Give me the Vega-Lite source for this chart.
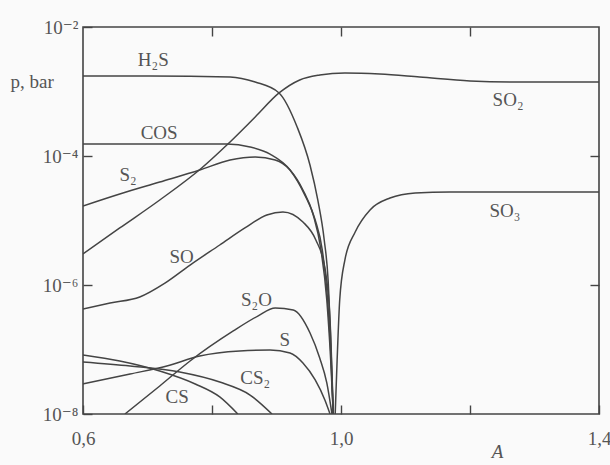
{
  "$schema": "https://vega.github.io/schema/vega-lite/v6.json",
  "width": 516,
  "height": 387,
  "autosize": "none",
  "padding": {"left": 83, "top": 27, "right": 11, "bottom": 51},
  "background": "#fafafa",
  "config": {
    "view": {"stroke": "#444444", "strokeWidth": 1.6},
    "axis": {
      "domain": false, "grid": false,
      "labelFont": "'Liberation Serif', 'DejaVu Serif', serif", "titleFont": "'Liberation Serif', 'DejaVu Serif', serif",
      "labelColor": "#555555", "titleColor": "#555555", "tickColor": "#444444",
      "labelFontSize": 19, "titleFontSize": 19, "titleFontWeight": "normal",
      "tickWidth": 1.4
    }
  },
  "datasets": {
    "curves": [
      {"s": "H2S", "x": 0.6, "p": 1.74e-3},
      {"s": "H2S", "x": 0.704, "p": 1.74e-3},
      {"s": "H2S", "x": 0.828, "p": 1.68e-3},
      {"s": "H2S", "x": 0.867, "p": 1.40e-3},
      {"s": "H2S", "x": 0.904, "p": 9.5e-4},
      {"s": "H2S", "x": 0.932, "p": 2.82e-4},
      {"s": "H2S", "x": 0.952, "p": 7.2e-5},
      {"s": "H2S", "x": 0.964, "p": 2.08e-5},
      {"s": "H2S", "x": 0.974, "p": 4.99e-6},
      {"s": "H2S", "x": 0.980, "p": 1.20e-6},
      {"s": "H2S", "x": 0.984, "p": 1.40e-7},
      {"s": "H2S", "x": 0.988, "p": 1e-8},

      {"s": "COS", "x": 0.6, "p": 1.53e-4},
      {"s": "COS", "x": 0.719, "p": 1.53e-4},
      {"s": "COS", "x": 0.823, "p": 1.53e-4},
      {"s": "COS", "x": 0.859, "p": 1.38e-4},
      {"s": "COS", "x": 0.890, "p": 1.07e-4},
      {"s": "COS", "x": 0.921, "p": 6.07e-5},
      {"s": "COS", "x": 0.944, "p": 2.48e-5},
      {"s": "COS", "x": 0.960, "p": 1.02e-5},
      {"s": "COS", "x": 0.971, "p": 3.49e-6},
      {"s": "COS", "x": 0.978, "p": 8.36e-7},
      {"s": "COS", "x": 0.984, "p": 9.8e-8},
      {"s": "COS", "x": 0.988, "p": 1e-8},

      {"s": "S2", "x": 0.6, "p": 1.68e-5},
      {"s": "S2", "x": 0.657, "p": 2.58e-5},
      {"s": "S2", "x": 0.719, "p": 3.95e-5},
      {"s": "S2", "x": 0.781, "p": 6.07e-5},
      {"s": "S2", "x": 0.828, "p": 8.67e-5},
      {"s": "S2", "x": 0.867, "p": 9.64e-5},
      {"s": "S2", "x": 0.898, "p": 8.67e-5},
      {"s": "S2", "x": 0.921, "p": 6.07e-5},
      {"s": "S2", "x": 0.941, "p": 2.97e-5},
      {"s": "S2", "x": 0.957, "p": 1.22e-5},
      {"s": "S2", "x": 0.969, "p": 3.49e-6},
      {"s": "S2", "x": 0.978, "p": 5.85e-7},
      {"s": "S2", "x": 0.984, "p": 6.87e-8},
      {"s": "S2", "x": 0.988, "p": 1e-8},

      {"s": "SO2", "x": 0.6, "p": 3.03e-6},
      {"s": "SO2", "x": 0.657, "p": 7.66e-6},
      {"s": "SO2", "x": 0.719, "p": 2.08e-5},
      {"s": "SO2", "x": 0.784, "p": 6.52e-5},
      {"s": "SO2", "x": 0.823, "p": 1.48e-4},
      {"s": "SO2", "x": 0.867, "p": 4.03e-4},
      {"s": "SO2", "x": 0.904, "p": 9.5e-4},
      {"s": "SO2", "x": 0.936, "p": 1.51e-3},
      {"s": "SO2", "x": 0.967, "p": 1.80e-3},
      {"s": "SO2", "x": 1.006, "p": 1.94e-3},
      {"s": "SO2", "x": 1.060, "p": 1.87e-3},
      {"s": "SO2", "x": 1.122, "p": 1.68e-3},
      {"s": "SO2", "x": 1.200, "p": 1.46e-3},
      {"s": "SO2", "x": 1.277, "p": 1.40e-3},
      {"s": "SO2", "x": 1.4, "p": 1.40e-3},

      {"s": "SO3", "x": 0.991, "p": 1e-8},
      {"s": "SO3", "x": 0.994, "p": 6.9e-8},
      {"s": "SO3", "x": 0.998, "p": 5.85e-7},
      {"s": "SO3", "x": 1.006, "p": 2.44e-6},
      {"s": "SO3", "x": 1.022, "p": 6.64e-6},
      {"s": "SO3", "x": 1.045, "p": 1.46e-5},
      {"s": "SO3", "x": 1.076, "p": 2.23e-5},
      {"s": "SO3", "x": 1.115, "p": 2.67e-5},
      {"s": "SO3", "x": 1.169, "p": 2.77e-5},
      {"s": "SO3", "x": 1.4, "p": 2.77e-5},

      {"s": "SO", "x": 0.6, "p": 4.25e-7},
      {"s": "SO", "x": 0.642, "p": 5.26e-7},
      {"s": "SO", "x": 0.688, "p": 6.52e-7},
      {"s": "SO", "x": 0.727, "p": 1.07e-6},
      {"s": "SO", "x": 0.766, "p": 2.04e-6},
      {"s": "SO", "x": 0.812, "p": 4.17e-6},
      {"s": "SO", "x": 0.851, "p": 7.66e-6},
      {"s": "SO", "x": 0.885, "p": 1.22e-5},
      {"s": "SO", "x": 0.910, "p": 1.36e-5},
      {"s": "SO", "x": 0.941, "p": 9.48e-6},
      {"s": "SO", "x": 0.961, "p": 4.99e-6},
      {"s": "SO", "x": 0.975, "p": 1.84e-6},
      {"s": "SO", "x": 0.983, "p": 2.86e-7},
      {"s": "SO", "x": 0.988, "p": 1e-8},

      {"s": "S2O", "x": 0.665, "p": 1e-8},
      {"s": "S2O", "x": 0.719, "p": 2.72e-8},
      {"s": "S2O", "x": 0.766, "p": 6.64e-8},
      {"s": "S2O", "x": 0.833, "p": 1.94e-7},
      {"s": "S2O", "x": 0.871, "p": 3.30e-7},
      {"s": "S2O", "x": 0.898, "p": 4.40e-7},
      {"s": "S2O", "x": 0.926, "p": 4.09e-7},
      {"s": "S2O", "x": 0.952, "p": 1.80e-7},
      {"s": "S2O", "x": 0.967, "p": 7.38e-8},
      {"s": "S2O", "x": 0.978, "p": 3.03e-8},
      {"s": "S2O", "x": 0.986, "p": 1e-8},

      {"s": "S", "x": 0.6, "p": 2.92e-8},
      {"s": "S", "x": 0.673, "p": 4.17e-8},
      {"s": "S", "x": 0.730, "p": 5.55e-8},
      {"s": "S", "x": 0.781, "p": 7.93e-8},
      {"s": "S", "x": 0.843, "p": 9.48e-8},
      {"s": "S", "x": 0.890, "p": 9.8e-8},
      {"s": "S", "x": 0.921, "p": 8.83e-8},
      {"s": "S", "x": 0.941, "p": 6.18e-8},
      {"s": "S", "x": 0.960, "p": 3.37e-8},
      {"s": "S", "x": 0.975, "p": 1.65e-8},
      {"s": "S", "x": 0.983, "p": 1e-8},

      {"s": "CS", "x": 0.6, "p": 8.22e-8},
      {"s": "CS", "x": 0.657, "p": 6.64e-8},
      {"s": "CS", "x": 0.719, "p": 4.64e-8},
      {"s": "CS", "x": 0.774, "p": 2.92e-8},
      {"s": "CS", "x": 0.812, "p": 1.84e-8},
      {"s": "CS", "x": 0.840, "p": 1e-8},

      {"s": "CS2", "x": 0.6, "p": 6.40e-8},
      {"s": "CS2", "x": 0.673, "p": 5.55e-8},
      {"s": "CS2", "x": 0.750, "p": 4.48e-8},
      {"s": "CS2", "x": 0.812, "p": 3.13e-8},
      {"s": "CS2", "x": 0.859, "p": 1.97e-8},
      {"s": "CS2", "x": 0.893, "p": 1e-8}
    ],
    "labels": [
      {"label": "H₂S", "x": 0.709, "p": 3.1e-3},
      {"label": "COS", "x": 0.718, "p": 2.27e-4},
      {"label": "S₂", "x": 0.670, "p": 5.07e-5},
      {"label": "SO", "x": 0.753, "p": 2.72e-6},
      {"label": "S₂O", "x": 0.869, "p": 5.85e-7},
      {"label": "S", "x": 0.913, "p": 1.40e-7},
      {"label": "CS₂", "x": 0.867, "p": 3.61e-8},
      {"label": "CS", "x": 0.746, "p": 1.85e-8},
      {"label": "SO₂", "x": 1.259, "p": 7.38e-4},
      {"label": "SO₃", "x": 1.254, "p": 1.40e-5}
    ]
  },
  "layer": [
    {
      "data": {"name": "curves"},
      "mark": {"type": "line", "interpolate": "monotone", "clip": true, "color": "#444444", "strokeWidth": 1.5},
      "encoding": {
        "x": {
          "field": "x", "type": "quantitative",
          "scale": {"domain": [0.6, 1.4], "nice": false, "zero": false},
          "axis": {
            "orient": "bottom", "values": [0.6, 0.8, 1.0, 1.2, 1.4],
            "tickSize": -9, "labelPadding": 24, "labelFlush": false, "labelOverlap": false,
            "labelExpr": "indexof(['0.6','1.0','1.4'], format(datum.value, '.1f')) >= 0 ? replace(format(datum.value, '.1f'), '.', ',') : ''",
            "title": "A", "titleFontStyle": "italic", "titleX": 414, "titleY": 28, "titleBaseline": "top", "titleAlign": "center"
          }
        },
        "y": {
          "field": "p", "type": "quantitative",
          "scale": {"type": "log", "domain": [1e-8, 1e-2], "nice": false},
          "axis": {
            "orient": "left", "values": [1e-8, 1e-6, 1e-4, 1e-2],
            "tickSize": -9, "labelPadding": 14, "labelOverlap": false, "labelFlush": false,
            "labelExpr": "'10' + ['', '', '⁻²', '', '⁻⁴', '', '⁻⁶', '', '⁻⁸'][round(-log(datum.value) / LN10)]",
            "title": "p, bar", "titleAngle": 0, "titleX": -73, "titleY": 54, "titleAlign": "left", "titleBaseline": "middle"
          }
        },
        "detail": {"field": "s"}
      }
    },
    {
      "data": {"name": "labels"},
      "mark": {"type": "text", "font": "'Liberation Serif', 'DejaVu Serif', serif", "fontSize": 19, "color": "#555555"},
      "encoding": {
        "x": {
          "field": "x", "type": "quantitative",
          "axis": {"orient": "top", "values": [0.8, 1.0, 1.2], "tickSize": -9, "labels": false, "title": null}
        },
        "y": {
          "field": "p", "type": "quantitative",
          "axis": {"orient": "right", "values": [1e-4, 1e-6], "tickSize": -9, "labels": false, "title": null}
        },
        "text": {"field": "label"}
      }
    }
  ],
  "resolve": {"axis": {"x": "independent", "y": "independent"}}
}
